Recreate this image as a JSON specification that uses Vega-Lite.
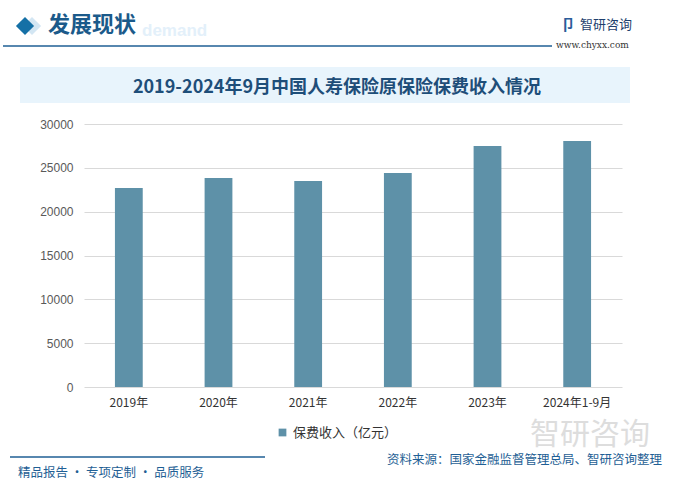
{
  "$schema": "https://vega.github.io/schema/vega-lite/v6.json",
  "width": 538,
  "height": 263,
  "autosize": {"type": "none"},
  "padding": {"left": 84, "top": 124, "right": 59, "bottom": 100},
  "background": "white",
  "config": {"view": {"stroke": null}, "font": "Liberation Sans"},
  "layer": [
    {
      "data": {"values": [{}]},
      "mark": {"type": "rect", "color": "#E8F4FC"},
      "encoding": {"x": {"value": -64}, "x2": {"value": 546}, "y": {"value": -57}, "y2": {"value": -21}}
    },
    {
      "data": {"values": [{}]},
      "mark": {"type": "text", "align": "center", "baseline": "middle", "font": "Noto Sans CJK SC", "fontSize": 18, "fontWeight": "bold", "color": "#1E4E79"},
      "encoding": {"x": {"value": 253}, "y": {"value": -36}, "text": {"value": "2019-2024年9月中国人寿保险原保险保费收入情况"}}
    },
    {
      "data": {"values": [{}]},
      "mark": {"type": "text", "align": "left", "baseline": "middle", "font": "Liberation Sans", "fontSize": 17, "fontWeight": "bold", "color": "#E3F0FA"},
      "encoding": {"x": {"value": 58}, "y": {"value": -93}, "text": {"value": "demand"}}
    },
    {
      "data": {"values": [{}]},
      "mark": {"type": "point", "shape": "diamond", "filled": true, "size": 330, "color": "#D3E6F3", "opacity": 1},
      "encoding": {"x": {"value": -52}, "y": {"value": -98}}
    },
    {
      "data": {"values": [{}]},
      "mark": {"type": "point", "shape": "diamond", "filled": true, "size": 330, "color": "#1570A6", "opacity": 1},
      "encoding": {"x": {"value": -59}, "y": {"value": -98}}
    },
    {
      "data": {"values": [{}]},
      "mark": {"type": "text", "align": "left", "baseline": "middle", "font": "Noto Sans CJK SC", "fontSize": 22, "fontWeight": "bold", "color": "#1B5A8A"},
      "encoding": {"x": {"value": -36}, "y": {"value": -99}, "text": {"value": "发展现状"}}
    },
    {
      "data": {"values": [{}]},
      "mark": {"type": "rule", "color": "#1F5F95", "strokeWidth": 1.5},
      "encoding": {"x": {"value": -81}, "x2": {"value": 468}, "y": {"value": -78}}
    },
    {
      "data": {"values": [{}]},
      "mark": {"type": "text", "align": "left", "baseline": "middle", "font": "Noto Sans CJK SC", "fontSize": 13, "color": "#1E3F6E"},
      "encoding": {"x": {"value": 496}, "y": {"value": -99}, "text": {"value": "智研咨询"}}
    },
    {
      "data": {"values": [{}]},
      "mark": {"type": "text", "align": "center", "baseline": "middle", "font": "Noto Sans CJK SC", "fontSize": 15, "fontWeight": "bold", "color": "#2A5C9A"},
      "encoding": {"x": {"value": 484}, "y": {"value": -99}, "text": {"value": "卩"}}
    },
    {
      "data": {"values": [{}]},
      "mark": {"type": "text", "align": "left", "baseline": "middle", "font": "DejaVu Serif", "fontSize": 9, "color": "#333333"},
      "encoding": {"x": {"value": 472}, "y": {"value": -79}, "text": {"value": "www.chyxx.com"}}
    },
    {
      "data": {"values": [{}]},
      "mark": {"type": "text", "align": "left", "baseline": "middle", "font": "Noto Sans CJK SC", "fontSize": 30, "color": "#DDDDDD"},
      "encoding": {"x": {"value": 446}, "y": {"value": 311}, "text": {"value": "智研咨询"}}
    },
    {
      "data": {"values": [{}]},
      "mark": {"type": "rule", "color": "#1F5F95", "strokeWidth": 1.5},
      "encoding": {"x": {"value": -74}, "x2": {"value": 181}, "y": {"value": 333}}
    },
    {
      "data": {"values": [{}]},
      "mark": {"type": "text", "align": "left", "baseline": "middle", "font": "Noto Sans CJK SC", "fontSize": 12.5, "color": "#1F5F95"},
      "encoding": {"x": {"value": -66}, "y": {"value": 349}, "text": {"value": "精品报告 · 专项定制 · 品质服务"}}
    },
    {
      "data": {"values": [{}]},
      "mark": {"type": "text", "align": "right", "baseline": "middle", "font": "Noto Sans CJK SC", "fontSize": 12.5, "color": "#1F5F95"},
      "encoding": {"x": {"value": 578}, "y": {"value": 336}, "text": {"value": "资料来源：国家金融监督管理总局、智研咨询整理"}}
    },
    {
      "data": {
        "values": [
          {"year": "2019年", "value": 22700, "series": "保费收入（亿元）"},
          {"year": "2020年", "value": 23850, "series": "保费收入（亿元）"},
          {"year": "2021年", "value": 23500, "series": "保费收入（亿元）"},
          {"year": "2022年", "value": 24400, "series": "保费收入（亿元）"},
          {"year": "2023年", "value": 27500, "series": "保费收入（亿元）"},
          {"year": "2024年1-9月", "value": 28060, "series": "保费收入（亿元）"}
        ]
      },
      "mark": {"type": "bar"},
      "encoding": {
        "x": {
          "field": "year", "type": "nominal", "sort": null,
          "scale": {"paddingInner": 0.69, "paddingOuter": 0.345},
          "axis": {"title": null, "labelAngle": 0, "ticks": false, "domain": false, "labelPadding": 10, "labelFontSize": 12, "labelColor": "#333333", "labelFont": "Noto Sans CJK SC"}
        },
        "y": {
          "field": "value", "type": "quantitative",
          "scale": {"domain": [0, 30000]},
          "axis": {"title": null, "values": [0, 5000, 10000, 15000, 20000, 25000, 30000], "ticks": false, "domain": false, "labelPadding": 11, "labelFontSize": 12, "labelColor": "#595959", "gridColor": "#D9D9D9", "format": "d"}
        },
        "color": {
          "field": "series", "type": "nominal",
          "scale": {"range": ["#5E91A8"]},
          "legend": {"title": null, "orient": "none", "legendX": 192, "legendY": 302, "symbolType": "square", "symbolSize": 60, "labelFontSize": 13, "labelColor": "#333333", "labelFont": "Noto Sans CJK SC"}
        }
      }
    }
  ]
}
